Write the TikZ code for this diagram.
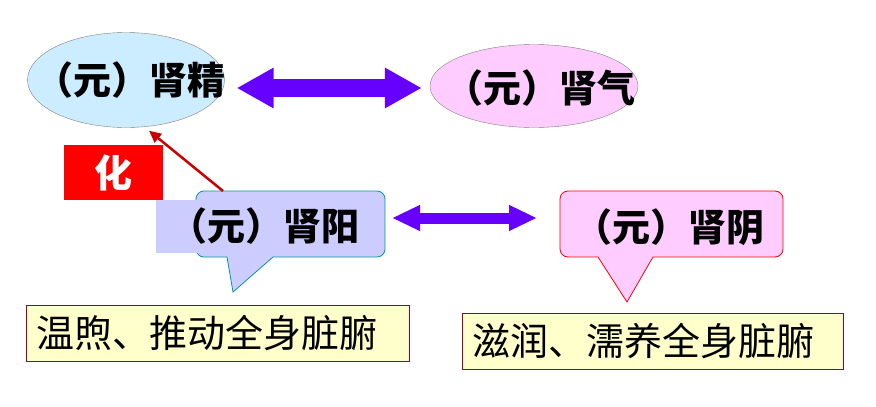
\documentclass[tikz,border=0pt]{standalone}
\usepackage{fontspec}
\usepackage{xcolor}
\usepackage{tikz}
\usetikzlibrary{shapes.geometric,arrows.meta}
\newfontfamily\cjk{Noto Sans CJK SC}
\definecolor{jingblue}{HTML}{CCECFF}
\definecolor{qipink}{HTML}{FFCCFF}
\definecolor{yanglav}{HTML}{CCCCFF}
\definecolor{bigpurple}{HTML}{6600FF}
\definecolor{yellowbox}{HTML}{FFFFCC}
\definecolor{boxred}{HTML}{990033}
\definecolor{yangteal}{HTML}{009999}
\definecolor{darkred}{HTML}{CC0000}
\begin{document}
\begin{tikzpicture}[x=1pt,y=-1pt,
  title/.style={font=\cjk\bfseries\fontsize{38}{44}\selectfont, inner sep=0pt},
  bodytext/.style={font=\cjk\fontsize{38}{44}\selectfont, inner sep=0pt},
  essence/.style={ellipse, draw=gray, inner sep=0pt},
  effectbox/.style={draw=boxred, fill=yellowbox, line width=1pt, inner sep=0pt}]
\useasboundingbox (0,0) rectangle (876,407);
\node[essence, fill=jingblue, minimum width=197pt, minimum height=95pt] (jing) at (126,80) {};
\node[title] (jingtext) at (130,80) {（元）肾精};
\node[essence, fill=qipink, minimum width=208pt, minimum height=83pt] (qi) at (534,86) {};
\node[title] (qitext) at (540,88) {（元）肾气};
\draw[bigpurple, line width=18pt, {Triangle[length=37pt,width=38pt]}-{Triangle[length=37pt,width=38pt]}]
  ([xshift=12pt,yshift=-8pt]jing.east) -- ([xshift=-8pt,yshift=-2pt]qi.west);
\filldraw[draw=yangteal, fill=yanglav, line width=0.8pt] (227,257) -- (233,292) -- (273,257)
  [rounded corners=8pt] -- (385,257) -- (385,191) -- (196,191) -- (196,257) [sharp corners] -- cycle;
\node[title, fill=yanglav, minimum width=216pt, minimum height=53pt] (yang) at (264,226.5) {（元）肾阳};
\coordinate (yangright) at (385,218);
\filldraw[draw=red, fill=qipink, line width=0.8pt] (598,257) -- (627,302) -- (653,257)
  [rounded corners=8pt] -- (783,257) -- (783,191) -- (560,191) -- (560,257) [sharp corners] -- cycle;
\node[title] (yin) at (669,227) {（元）肾阴};
\coordinate (yinleft) at (560,218);
\draw[bigpurple, line width=11pt, {Triangle[length=28pt,width=24pt]}-{Triangle[length=28pt,width=24pt]}]
  ([xshift=7pt]yangright) -- ([xshift=-23pt]yinleft);
\node[fill=red, minimum width=99pt, minimum height=55pt, inner sep=0pt, text=white,
  font=\cjk\bfseries\fontsize{38}{42}\selectfont] (hua) at (113.5,172.5) {化};
\draw[darkred, line width=2.5pt, -{Triangle[length=12pt,width=11pt]}] (223,191) -- ([xshift=23pt,yshift=-3pt]jing.south);
\node[effectbox, minimum width=383pt, minimum height=56pt] (warm) at (217.5,333) {};
\node[bodytext] at (207,333) {温煦、推动全身脏腑};
\node[effectbox, minimum width=381pt, minimum height=56pt] (moist) at (652.5,341) {};
\node[bodytext] at (643,341) {滋润、濡养全身脏腑};
\end{tikzpicture}
\end{document}
